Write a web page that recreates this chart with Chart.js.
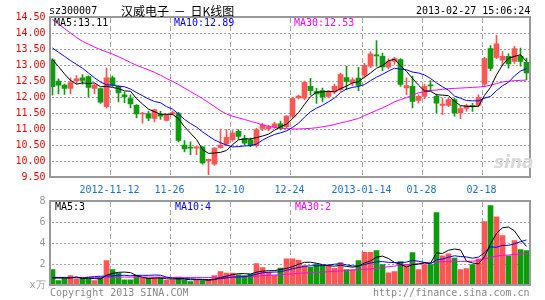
<!DOCTYPE html>
<html>
<head>
<meta charset="utf-8">
<script src="https://cdn.jsdelivr.net/npm/chart.js@4.4.0/dist/chart.umd.min.js"></script>
<style>
body { margin: 0; background: #fff; }
#wrap { position: relative; width: 545px; height: 300px; overflow: hidden; font-family: "DejaVu Sans Mono", monospace; font-size: 10px; }
canvas { position: absolute; left: 0; }
.t { position: absolute; white-space: pre; line-height: 12px; }
</style>
</head>
<body>
<div id="wrap">
<canvas id="kline" width="545" height="200" style="top:0px"></canvas>
<canvas id="vol" width="545" height="110" style="top:190px"></canvas>
<div class="t" style="left:49px;top:5px;">sz300007</div>
<div class="t" style="left:121px;top:4px;font-family:'Noto Sans CJK SC';font-size:12px;line-height:14px;word-spacing:2px;">汉威电子 － 日K线图</div>
<div class="t" style="left:416px;top:5px;">2013-02-27 15:06:24</div>
<div class="t" id="lg1" style="left:54px;top:17px;color:#000"></div>
<div class="t" id="lg2" style="left:174px;top:17px;color:#0000ff"></div>
<div class="t" id="lg3" style="left:294px;top:17px;color:#ff00ff"></div>
<div class="t" id="lg4" style="left:55px;top:201px;color:#000"></div>
<div class="t" id="lg5" style="left:175px;top:201px;color:#0000ff"></div>
<div class="t" id="lg6" style="left:295px;top:201px;color:#ff00ff"></div>
<div class="t" style="left:494px;top:153px;color:#d9d9d9;font-family:'DejaVu Sans';font-style:italic;font-weight:bold;font-size:17px;line-height:18px;">sina</div>
<div class="t" style="left:50px;top:287px;color:#888">Copyright 2013 SINA.COM</div>
<div class="t" style="left:373px;top:287px;color:#888">http://finance.sina.com.cn</div>
</div>
<script>
// trading days
var dates = ['2012-10-29','2012-10-30','2012-10-31','2012-11-01','2012-11-02','2012-11-05','2012-11-06','2012-11-07','2012-11-08','2012-11-09',
  '2012-11-12','2012-11-13','2012-11-14','2012-11-15','2012-11-16','2012-11-19','2012-11-20','2012-11-21','2012-11-22','2012-11-23',
  '2012-11-26','2012-11-27','2012-11-28','2012-11-29','2012-11-30','2012-12-03','2012-12-04','2012-12-05','2012-12-06','2012-12-07',
  '2012-12-10','2012-12-11','2012-12-12','2012-12-13','2012-12-14','2012-12-17','2012-12-18','2012-12-19','2012-12-20','2012-12-21',
  '2012-12-24','2012-12-25','2012-12-26','2012-12-27','2012-12-28','2012-12-31','2013-01-04','2013-01-07','2013-01-08','2013-01-09',
  '2013-01-10','2013-01-11','2013-01-14','2013-01-15','2013-01-16','2013-01-17','2013-01-18','2013-01-21','2013-01-22','2013-01-23',
  '2013-01-24','2013-01-25','2013-01-28','2013-01-29','2013-01-30','2013-01-31','2013-02-01','2013-02-04','2013-02-05','2013-02-06',
  '2013-02-07','2013-02-08','2013-02-18','2013-02-19','2013-02-20','2013-02-21','2013-02-22','2013-02-25','2013-02-26','2013-02-27'];

var tickDates = ['2012-11-12','2012-11-26','2012-12-10','2012-12-24','2013-01-14','2013-01-28','2013-02-18'];
var tickTexts = ['2012-11-12','11-26','12-10','12-24','2013-01-14','01-28','02-18'];

var opens = [13.16,12.50,12.37,12.27,12.50,12.60,12.64,12.27,12.26,11.70,
  12.60,12.33,12.07,11.95,11.74,11.47,11.48,11.33,11.47,11.27,
  11.47,11.48,10.50,10.42,10.40,10.44,10.00,9.90,10.42,10.53,
  10.67,10.93,10.70,10.66,10.48,11.02,11.00,11.07,11.16,11.07,
  11.40,11.97,11.96,12.33,12.17,12.20,12.02,12.16,12.23,12.61,
  12.44,12.59,12.68,12.96,13.32,13.27,12.93,13.11,13.17,12.28,
  12.33,11.89,12.02,12.38,12.02,11.74,11.74,11.92,11.50,11.64,
  11.74,11.74,12.40,13.51,13.24,13.15,13.27,13.11,13.27,13.08];
var highs = [13.20,12.57,12.40,12.60,12.67,12.70,12.66,12.40,12.28,12.90,
  12.65,12.35,12.15,12.07,11.76,11.52,11.55,11.62,11.55,11.47,
  11.56,11.52,10.64,10.60,10.45,10.46,10.06,10.42,11.00,10.98,
  10.95,10.98,10.80,10.72,11.02,11.18,11.12,11.22,11.25,11.42,
  12.00,12.06,12.50,12.58,12.27,12.28,12.20,12.40,12.75,12.96,
  12.60,12.93,13.05,13.42,13.76,13.37,13.20,13.24,13.20,12.60,
  12.65,12.07,12.40,12.51,12.09,11.97,11.97,11.97,11.71,11.78,
  11.80,12.07,13.24,13.61,13.93,13.42,13.35,13.58,13.53,13.22];
var lows = [12.06,12.10,12.08,12.10,12.42,12.40,12.00,12.10,11.80,11.65,
  12.33,11.85,11.82,11.66,11.35,11.18,11.26,11.22,11.30,11.25,
  11.44,10.60,10.28,10.20,10.20,9.90,9.57,9.86,10.40,10.48,
  10.62,10.68,10.50,10.45,10.43,10.95,10.95,11.02,10.97,11.04,
  11.35,11.94,11.92,12.06,11.80,11.85,11.98,12.10,12.18,12.23,
  12.35,12.20,12.60,12.92,12.96,12.82,12.88,13.02,12.33,12.07,
  11.66,11.81,11.95,12.20,11.50,11.45,11.70,11.40,11.32,11.55,
  11.55,11.70,12.33,12.82,13.20,12.98,12.90,13.05,12.96,12.54];
var closes = [12.32,12.37,12.27,12.45,12.57,12.52,12.30,12.37,11.84,12.60,
  12.38,12.13,12.00,11.78,11.47,11.50,11.34,11.60,11.40,11.44,
  11.51,10.64,10.38,10.40,10.44,9.94,10.05,10.40,10.50,10.74,
  10.87,10.77,10.56,10.49,10.98,11.12,11.07,11.16,11.02,11.40,
  11.95,12.03,12.46,12.20,12.10,12.00,12.16,12.33,12.70,12.49,
  12.54,12.36,12.99,13.35,13.28,12.94,13.11,13.20,12.39,12.36,
  11.86,12.02,12.33,12.35,11.81,11.78,11.92,11.50,11.64,11.73,
  11.71,11.99,13.20,12.89,13.66,13.27,13.03,13.51,13.11,12.75];

var ma5 = [13.17,12.95,12.72,12.52,12.40,12.44,12.42,12.44,12.32,12.33,
  12.30,12.26,12.19,12.18,11.95,11.78,11.62,11.54,11.46,11.46,
  11.46,11.32,11.07,10.87,10.67,10.36,10.24,10.25,10.27,10.33,
  10.51,10.66,10.69,10.69,10.73,10.78,10.84,10.96,11.07,11.15,
  11.32,11.51,11.77,12.01,12.15,12.16,12.18,12.16,12.26,12.34,
  12.44,12.48,12.62,12.75,12.90,12.98,13.13,13.18,12.98,12.80,
  12.58,12.37,12.19,12.18,12.07,12.06,12.04,11.87,11.73,11.71,
  11.70,11.71,12.05,12.30,12.69,13.00,13.21,13.27,13.32,13.11];
var ma10 = [13.53,13.40,13.27,13.14,13.02,12.90,12.75,12.60,12.47,12.38,
  12.37,12.34,12.32,12.25,12.14,12.04,11.94,11.86,11.82,11.70,
  11.62,11.47,11.30,11.17,11.06,10.91,10.78,10.66,10.57,10.50,
  10.44,10.45,10.47,10.48,10.53,10.65,10.75,10.83,10.88,10.94,
  11.05,11.18,11.37,11.54,11.65,11.74,11.85,11.97,12.14,12.25,
  12.30,12.33,12.39,12.51,12.62,12.71,12.81,12.90,12.87,12.85,
  12.78,12.75,12.69,12.58,12.44,12.32,12.21,12.03,11.96,11.89,
  11.88,11.88,11.96,12.02,12.20,12.35,12.46,12.66,12.81,12.89];
var ma30 = [14.42,14.28,14.14,14.00,13.86,13.74,13.65,13.56,13.48,13.41,
  13.34,13.26,13.17,13.08,12.99,12.92,12.85,12.77,12.68,12.58,
  12.49,12.39,12.28,12.17,12.06,11.95,11.83,11.70,11.57,11.47,
  11.40,11.35,11.30,11.24,11.19,11.13,11.08,11.05,11.03,11.01,
  11.00,11.00,11.01,11.02,11.04,11.07,11.10,11.14,11.19,11.23,
  11.28,11.33,11.42,11.50,11.58,11.66,11.75,11.85,11.92,11.98,
  12.06,12.13,12.17,12.20,12.22,12.24,12.26,12.27,12.28,12.29,
  12.30,12.31,12.33,12.37,12.42,12.47,12.49,12.51,12.52,12.53];

// volume, x万
var volumes = [1.46,0.41,0.60,0.89,0.54,0.60,0.60,0.41,0.73,2.32,
  1.46,1.14,0.50,0.50,0.89,0.63,0.63,0.63,0.63,0.44,
  0.50,0.76,0.50,0.32,0.50,0.41,0.50,0.89,1.27,1.14,
  1.14,0.98,0.89,1.05,2.03,1.65,1.20,0.92,1.62,2.50,
  2.50,2.35,1.84,1.68,2.00,1.84,1.84,1.59,2.13,1.46,
  1.46,2.32,3.11,3.11,3.27,1.94,1.17,1.27,2.22,1.94,
  3.08,1.46,1.94,1.94,6.89,2.79,2.98,2.57,1.46,1.56,
  1.94,2.50,6.03,7.56,6.50,4.70,2.79,4.22,3.37,3.27];
var volMa5 = [0.67,0.66,0.66,0.67,0.78,0.61,0.65,0.61,0.58,0.93,
  1.10,1.21,1.23,1.18,0.90,0.73,0.63,0.66,0.68,0.59,
  0.57,0.59,0.57,0.50,0.52,0.50,0.45,0.52,0.71,0.84,
  0.99,1.08,1.08,1.04,1.22,1.32,1.36,1.37,1.48,1.58,
  1.75,1.98,2.16,2.17,2.07,1.94,1.84,1.79,1.88,1.77,
  1.70,1.79,2.10,2.29,2.65,2.75,2.52,2.15,1.97,1.71,
  1.94,1.99,2.13,2.07,3.06,3.00,3.31,3.43,3.34,2.27,
  2.10,2.01,2.70,3.92,4.91,5.46,5.52,5.15,4.32,3.67];
var volMa10 = [0.72,0.72,0.72,0.70,0.68,0.68,0.75,0.80,0.83,0.86,
  0.86,0.93,0.92,0.88,0.92,0.92,0.92,0.95,0.93,0.75,
  0.65,0.61,0.62,0.59,0.56,0.54,0.52,0.55,0.61,0.68,
  0.75,0.77,0.80,0.88,1.03,1.16,1.22,1.23,1.26,1.40,
  1.54,1.67,1.77,1.83,1.83,1.85,1.91,1.98,2.03,1.92,
  1.82,1.82,1.95,2.09,2.21,2.23,2.16,2.13,2.13,2.18,
  2.35,2.26,2.14,2.02,2.39,2.47,2.65,2.78,2.71,2.67,
  2.55,2.66,3.07,3.63,3.59,3.78,3.77,3.93,4.12,4.29];
var volMa30 = [0.72,0.72,0.72,0.71,0.71,0.71,0.70,0.70,0.70,0.72,
  0.74,0.75,0.75,0.75,0.75,0.75,0.75,0.75,0.74,0.73,
  0.72,0.72,0.72,0.72,0.71,0.71,0.71,0.71,0.72,0.73,
  0.74,0.76,0.78,0.81,0.85,0.89,0.92,0.95,0.98,1.02,
  1.06,1.10,1.14,1.17,1.20,1.23,1.27,1.30,1.34,1.38,
  1.42,1.45,1.49,1.52,1.60,1.68,1.74,1.80,1.90,1.94,
  1.98,2.02,2.06,2.10,2.20,2.22,2.24,2.25,2.25,2.25,
  2.27,2.30,2.48,2.62,2.75,2.82,2.86,2.90,2.95,2.98];

var UP = '#ff5555', DOWN = '#0c9c0c';
var GRID = '#a4a4a4';

Chart.defaults.font.family = 'DejaVu Sans Mono';
Chart.defaults.font.size = 10;

var wicks = [], bodies = [], colors = [];
for (var i = 0; i < dates.length; i++) {
  wicks.push([lows[i], highs[i]]);
  bodies.push([opens[i], closes[i]]);
  colors.push(closes[i] >= opens[i] ? UP : DOWN);
}

function last(a) { return a[a.length - 1]; }
document.getElementById('lg1').textContent = 'MA5:' + last(ma5).toFixed(2);
document.getElementById('lg2').textContent = 'MA10:' + last(ma10).toFixed(2);
document.getElementById('lg3').textContent = 'MA30:' + last(ma30).toFixed(2);
document.getElementById('lg4').textContent = 'MA5:' + Math.floor(last(volMa5));
document.getElementById('lg5').textContent = 'MA10:' + Math.floor(last(volMa10));
document.getElementById('lg6').textContent = 'MA30:' + Math.floor(last(volMa30));

// dotted value lines and dashed date lines, laid out from the chart's scales.
// drawn dot by dot with fillRect, no setLineDash
var gridPlugin = {
  id: 'gridlines',
  afterDatasetsDraw: function(chart) {
    var a = chart.chartArea, c = chart.ctx, xs = chart.scales.x, ys = chart.scales.y;
    var half = (xs.getPixelForValue(1) - xs.getPixelForValue(0)) / 2;
    var left = Math.round(a.left), right = Math.round(a.right);
    var top = Math.round(a.top), bottom = Math.round(a.bottom);
    c.save();
    c.globalCompositeOperation = 'destination-over';
    c.fillStyle = GRID;
    ys.ticks.forEach(function(t) {
      if (t.value <= ys.min || t.value >= ys.max) return;
      var py = Math.round(ys.getPixelForValue(t.value));
      for (var x = left + 2; x < right; x += 4) c.fillRect(x, py, 2, 1);
    });
    dates.forEach(function(d, i) {
      if (tickDates.indexOf(d) < 0) return;
      var px = Math.round(xs.getPixelForValue(i) - half);
      for (var y = top + 1; y < bottom; y += 8) c.fillRect(px, y, 1, Math.min(5, bottom - y));
    });
    c.restore();
  }
};

// frame around plot area
var framePlugin = {
  id: 'frame',
  afterDraw: function(chart) {
    var a = chart.chartArea, c = chart.ctx;
    c.save();
    c.strokeStyle = '#999999';
    c.lineWidth = 2;
    c.strokeRect(Math.round(a.left), Math.round(a.top), Math.round(a.right - a.left), Math.round(a.bottom - a.top));
    c.restore();
  }
};

function lineSet(data, color) {
  return { type: 'line', data: data, borderColor: color, borderWidth: 1, pointRadius: 0, tension: 0, order: 0 };
}

function xScale(showLabels, height) {
  return {
    type: 'category',
    offset: true,
    grid: { display: false, drawTicks: false },
    border: { display: false },
    ticks: {
      display: showLabels,
      autoSkip: false,
      maxRotation: 0,
      color: '#1a72c8',
      padding: 7,
      labelOffset: -3,
      callback: function(v, i) {
        var k = tickDates.indexOf(dates[i]);
        return k >= 0 ? tickTexts[k] : '';
      }
    },
    afterFit: function(s) { s.height = height; }
  };
}

new Chart(document.getElementById('kline'), {
  type: 'bar',
  data: {
    labels: dates,
    datasets: [
      lineSet(ma5, '#000000'),
      lineSet(ma10, '#0000ff'),
      lineSet(ma30, '#ff00ff'),
      { data: wicks, backgroundColor: colors, barThickness: 1, grouped: false, order: 2 },
      { data: bodies, backgroundColor: colors, barThickness: 5, grouped: false, minBarLength: 1, order: 1 }
    ]
  },
  options: {
    responsive: false,
    animation: false,
    devicePixelRatio: 1,
    layout: { padding: { top: 17, right: 15.5, left: 0, bottom: 0 } },
    plugins: { legend: { display: false }, tooltip: { enabled: false } },
    scales: {
      x: xScale(true, 23),
      y: {
        min: 9.5,
        max: 14.5,
        grid: { display: false, drawTicks: false },
        border: { display: false },
        ticks: { stepSize: 0.5, autoSkip: false, color: '#ff0000', padding: 4, callback: function(v) { return v.toFixed(2); } },
        afterFit: function(s) { s.width = 49.5; }
      }
    }
  },
  plugins: [gridPlugin, framePlugin]
});

new Chart(document.getElementById('vol'), {
  type: 'bar',
  data: {
    labels: dates,
    datasets: [
      lineSet(volMa5, '#000000'),
      lineSet(volMa10, '#0000ff'),
      lineSet(volMa30, '#ff00ff'),
      { data: volumes, backgroundColor: colors, barThickness: 5, order: 1 }
    ]
  },
  options: {
    responsive: false,
    animation: false,
    devicePixelRatio: 1,
    layout: { padding: { top: 11, right: 15.5, left: 0, bottom: 0 } },
    plugins: { legend: { display: false }, tooltip: { enabled: false } },
    scales: {
      x: xScale(false, 15),
      y: {
        min: 0,
        max: 8,
        grid: { display: false, drawTicks: false },
        border: { display: false },
        ticks: { stepSize: 2, color: '#999999', padding: 4, callback: function(v) { return v === 0 ? 'x万' : v; } },
        afterFit: function(s) { s.width = 49.5; }
      }
    }
  },
  plugins: [gridPlugin, framePlugin]
});
</script>
</body>
</html>
